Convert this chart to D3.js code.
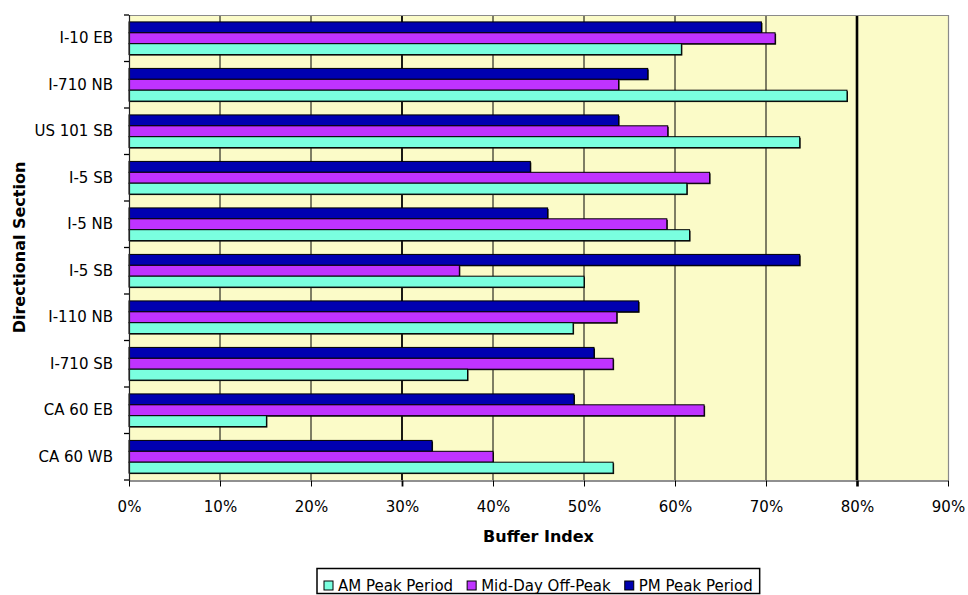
<!DOCTYPE html>
<meta charset="utf-8">
<style>
    body { margin: 0; background: #fff; }
    text {
        font-family: "DejaVu Sans", Verdana, sans-serif;
        fill: #000;
    }
    .grid line { stroke: #000; }
</style>

<svg width="968" height="595"></svg>

<script src="https://d3js.org/d3.v7.min.js"></script>

<script>

    // categories (top to bottom) and values in percent
    var categories = ["I-10 EB", "I-710 NB", "US 101 SB", "I-5 SB", "I-5 NB",
                      "I-5 SB", "I-110 NB", "I-710 SB", "CA 60 EB", "CA 60 WB"];
    var amPeak  = [60.7, 78.9, 73.7, 61.3, 61.6, 50.0, 48.8, 37.2, 15.1, 53.2];
    var midDay  = [71.0, 53.8, 59.2, 63.8, 59.1, 36.3, 53.6, 53.2, 63.2, 40.0];
    var pmPeak  = [69.5, 57.0, 53.8, 44.1, 46.0, 73.7, 56.0, 51.1, 48.9, 33.3];
    var xTicks  = [0, 10, 20, 30, 40, 50, 60, 70, 80, 90];

    var series = [
        {key: "pm",  name: "PM Peak Period",    color: "#0000B0", values: pmPeak},
        {key: "mid", name: "Mid-Day Off-Peak",  color: "#BF33FF", values: midDay},
        {key: "am",  name: "AM Peak Period",    color: "#7AFFDF", values: amPeak}
    ];

    var svg = d3.select("svg");

    var pLeft = 129, pRight = 948, pTop = 15, pBottom = 480;

    var x = d3.scaleLinear().domain([0, 90]).range([pLeft, pRight]);
    var y0 = d3.scaleBand().domain(d3.range(categories.length)).range([pTop, pBottom]);
    var y1 = d3.scaleBand().domain(series.map(function (s) { return s.key; }))
            .range([0, y0.bandwidth()])
            .paddingOuter(0.635);

    function lineWidth(d) {
        return d === 80 ? 2.6 : (d === 30 ? 1.8 : 1);
    }

    // plot background
    svg.append("rect")
            .attr("x", pLeft).attr("y", pTop)
            .attr("width", pRight - pLeft).attr("height", pBottom - pTop)
            .attr("fill", "#FBFBC8");

    // vertical grid lines
    svg.append("g").attr("class", "grid")
            .selectAll("line")
            .data(xTicks.filter(function (d) { return d > 0 && d < 90; }))
            .enter().append("line")
            .attr("x1", function (d) { return x(d); })
            .attr("x2", function (d) { return x(d); })
            .attr("y1", pTop).attr("y2", pBottom)
            .attr("stroke-width", lineWidth);

    // frame top / right
    svg.append("path")
            .attr("d", "M" + pLeft + "," + (pTop + 0.5) + "H" + (pRight + 0.5) + "V" + pBottom)
            .attr("fill", "none").attr("stroke", "#8a8a8a").attr("stroke-width", 1.2);

    // bars
    var groups = svg.append("g").selectAll("g")
            .data(categories)
            .enter().append("g")
            .attr("transform", function (d, i) { return "translate(0," + y0(i) + ")"; });

    var bars = groups.selectAll("g")
            .data(function (d, i) {
                return series.map(function (s) {
                    return {key: s.key, color: s.color, value: s.values[i]};
                });
            })
            .enter().append("g");

    // shadow
    bars.append("rect")
            .attr("x", x(0) + 1)
            .attr("y", function (d) { return y1(d.key) + 1; })
            .attr("width", function (d) { return x(d.value) - x(0); })
            .attr("height", y1.bandwidth())
            .attr("fill", "#111");

    bars.append("rect")
            .attr("x", x(0))
            .attr("y", function (d) { return y1(d.key); })
            .attr("width", function (d) { return x(d.value) - x(0); })
            .attr("height", y1.bandwidth())
            .attr("fill", function (d) { return d.color; })
            .attr("stroke", "#000")
            .attr("stroke-width", 1);

    // x axis
    var xAxis = svg.append("g")
            .attr("transform", "translate(0," + (pBottom + 0.5) + ")")
            .call(d3.axisBottom(x)
                    .tickValues(xTicks)
                    .tickFormat(function (d) { return d + "%"; })
                    .tickSize(6)
                    .tickSizeOuter(0)
                    .tickPadding(15));
    xAxis.select(".domain").attr("stroke", "#222").attr("stroke-width", 1.2);
    xAxis.selectAll(".tick line").attr("stroke", "#000").attr("stroke-width", lineWidth);
    xAxis.selectAll("text")
            .style("font-family", "'DejaVu Sans', Verdana, sans-serif")
            .style("font-size", "15px").attr("fill", "#000");

    // y axis: labels at centers, ticks at band boundaries
    var yAxis = svg.append("g")
            .attr("transform", "translate(" + pLeft + ",0)")
            .call(d3.axisLeft(y0)
                    .tickSize(0)
                    .tickPadding(16)
                    .tickFormat(function (i) { return categories[i]; }));
    yAxis.select(".domain").remove();
    yAxis.selectAll("text")
            .style("font-family", "'DejaVu Sans', Verdana, sans-serif")
            .style("font-size", "15px").attr("fill", "#000");

    svg.append("line")
            .attr("x1", pLeft + 0.5).attr("x2", pLeft + 0.5)
            .attr("y1", pTop).attr("y2", pBottom + 1)
            .attr("stroke", "#222").attr("stroke-width", 1.2);

    svg.append("g").selectAll("line")
            .data(d3.range(categories.length + 1))
            .enter().append("line")
            .attr("x1", pLeft - 5).attr("x2", pLeft)
            .attr("y1", function (i) { return pTop + i * y0.step(); })
            .attr("y2", function (i) { return pTop + i * y0.step(); })
            .attr("stroke", "#000").attr("stroke-width", 1.3);

    // axis titles
    svg.append("text")
            .attr("x", (pLeft + pRight) / 2).attr("y", 542)
            .attr("text-anchor", "middle")
            .style("font-size", "16px").style("font-weight", "bold")
            .text("Buffer Index");

    svg.append("text")
            .attr("transform", "translate(25," + ((pTop + pBottom) / 2) + ") rotate(-90)")
            .attr("text-anchor", "middle")
            .style("font-size", "16px").style("font-weight", "bold")
            .text("Directional Section");

    // legend (AM, Mid-Day, PM)
    var legendItems = series.slice().reverse();
    var legend = svg.append("g");
    var box = legend.append("rect")
            .attr("fill", "#fff").attr("stroke", "#000").attr("stroke-width", 1.5);

    var cursor = 7;
    legendItems.forEach(function (s) {
        legend.append("rect")
                .attr("x", cursor).attr("y", 12.5)
                .attr("width", 9).attr("height", 9)
                .attr("fill", s.color).attr("stroke", "#000").attr("stroke-width", 1);
        var t = legend.append("text")
                .attr("x", cursor + 14).attr("y", 22)
                .style("font-size", "15px")
                .text(s.name);
        cursor += 14 + t.node().getComputedTextLength() + 14;
    });
    var legendW = cursor - 14 + 7;
    box.attr("x", 0).attr("y", 0).attr("width", legendW).attr("height", 25);
    legend.attr("transform", "translate(" + Math.round((pLeft + pRight) / 2 - legendW / 2) + ",568.5)");

</script>
